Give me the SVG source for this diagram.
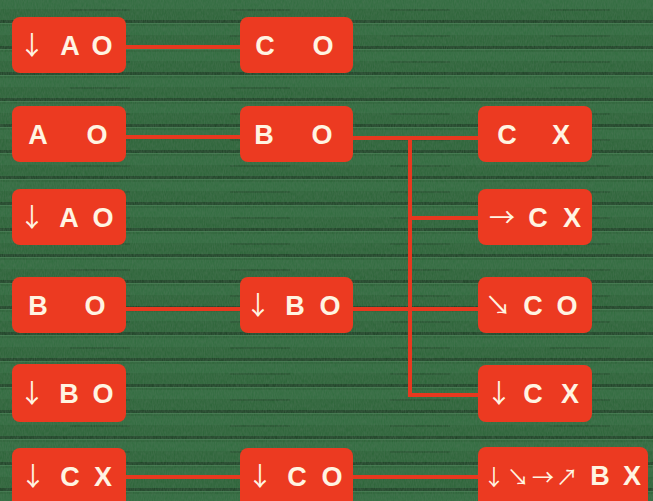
<svg xmlns="http://www.w3.org/2000/svg" width="653" height="501" viewBox="0 0 653 501">
<defs>
<pattern id="bricks" x="0" y="0" width="160" height="26" patternUnits="userSpaceOnUse">
<rect width="160" height="26" fill="#2b6437"/>
<rect y="0" width="160" height="9" fill="#306c3e"/>
<rect y="20" width="160" height="3" fill="#1d4125"/>
<rect y="23" width="160" height="1" fill="#3f7a4c"/>
<rect x="70" y="9" width="60" height="2" fill="#25552f"/>
</pattern>
<filter id="noise" x="0" y="0" width="100%" height="100%">
<feTurbulence type="fractalNoise" baseFrequency="0.9 0.25" numOctaves="2" seed="3" result="n"/>
<feColorMatrix type="matrix" values="0 0 0 0 0.1  0 0 0 0 0.2  0 0 0 0 0.12  0 0 0 0.5 0"/>
</filter>
</defs>
<style>
.box{fill:#ec3a21;}
.t{font-family:"Liberation Sans",Arial,sans-serif;font-weight:bold;font-size:27px;fill:#fff4e2;text-anchor:middle;}
.a{font-family:"Noto Sans CJK SC","DejaVu Sans",sans-serif;font-weight:normal;font-size:26px;}
.s{font-size:22px;}
.ln{stroke:#e8381f;stroke-width:4;fill:none;}
</style>
<rect width="653" height="501" fill="url(#bricks)"/>
<rect width="653" height="501" filter="url(#noise)"/>
<g id="connectors">
<line class="ln" x1="126" y1="47" x2="240" y2="47"/>
<line class="ln" x1="126" y1="137" x2="240" y2="137"/>
<polyline class="ln" points="353,138 478,138"/>
<polyline class="ln" points="410,138 410,395 478,395"/>
<line class="ln" x1="410" y1="218" x2="478" y2="218"/>
<line class="ln" x1="126" y1="309" x2="240" y2="309"/>
<line class="ln" x1="353" y1="309" x2="478" y2="309"/>
<line class="ln" x1="126" y1="477" x2="240" y2="477"/>
<line class="ln" x1="353" y1="477" x2="478" y2="477"/>
</g>
<g id="n1"><rect class="box" x="12" y="17" width="114" height="56" rx="8"/><text class="t" y="55"><tspan class="a" x="32">↓</tspan><tspan x="70">A</tspan><tspan x="102">O</tspan></text></g>
<g id="n2"><rect class="box" x="240" y="17" width="113" height="56" rx="8"/><text class="t" y="55"><tspan x="265">C</tspan><tspan x="323">O</tspan></text></g>
<g id="n3"><rect class="box" x="12" y="106" width="114" height="56" rx="8"/><text class="t" y="144"><tspan x="38">A</tspan><tspan x="97">O</tspan></text></g>
<g id="n4"><rect class="box" x="240" y="106" width="113" height="56" rx="8"/><text class="t" y="144"><tspan x="264">B</tspan><tspan x="322">O</tspan></text></g>
<g id="n5"><rect class="box" x="478" y="106" width="114" height="56" rx="8"/><text class="t" y="144"><tspan x="507">C</tspan><tspan x="561">X</tspan></text></g>
<g id="n6"><rect class="box" x="12" y="189" width="114" height="56" rx="8"/><text class="t" y="227"><tspan class="a" x="32">↓</tspan><tspan x="69">A</tspan><tspan x="103">O</tspan></text></g>
<g id="n7"><rect class="box" x="478" y="189" width="114" height="56" rx="8"/><text class="t" y="227"><tspan class="a" x="502">→</tspan><tspan x="538">C</tspan><tspan x="572">X</tspan></text></g>
<g id="n8"><rect class="box" x="12" y="277" width="114" height="56" rx="8"/><text class="t" y="315"><tspan x="38">B</tspan><tspan x="95">O</tspan></text></g>
<g id="n9"><rect class="box" x="240" y="277" width="113" height="56" rx="8"/><text class="t" y="315"><tspan class="a" x="258">↓</tspan><tspan x="295">B</tspan><tspan x="330">O</tspan></text></g>
<g id="n10"><rect class="box" x="478" y="277" width="114" height="56" rx="8"/><text class="t" y="315"><tspan class="a" x="498">↘</tspan><tspan x="533">C</tspan><tspan x="567">O</tspan></text></g>
<g id="n11"><rect class="box" x="12" y="364" width="114" height="58" rx="8"/><text class="t" y="403"><tspan class="a" x="32">↓</tspan><tspan x="69">B</tspan><tspan x="103">O</tspan></text></g>
<g id="n12"><rect class="box" x="478" y="365" width="114" height="57" rx="8"/><text class="t" y="403"><tspan class="a" x="499">↓</tspan><tspan x="533">C</tspan><tspan x="570">X</tspan></text></g>
<g id="n13"><rect class="box" x="12" y="448" width="114" height="60" rx="8"/><text class="t" y="486"><tspan class="a" x="33">↓</tspan><tspan x="70">C</tspan><tspan x="103">X</tspan></text></g>
<g id="n14"><rect class="box" x="240" y="448" width="113" height="60" rx="8"/><text class="t" y="486"><tspan class="a" x="260">↓</tspan><tspan x="297">C</tspan><tspan x="332">O</tspan></text></g>
<g id="n15"><rect class="box" x="478" y="447" width="170" height="61" rx="8"/><text class="t" y="485"><tspan class="a s" x="494">↓</tspan><tspan class="a s" x="518">↘</tspan><tspan class="a s" x="543">→</tspan><tspan class="a s" x="567">↗</tspan><tspan x="600">B</tspan><tspan x="632">X</tspan></text></g>
</svg>
